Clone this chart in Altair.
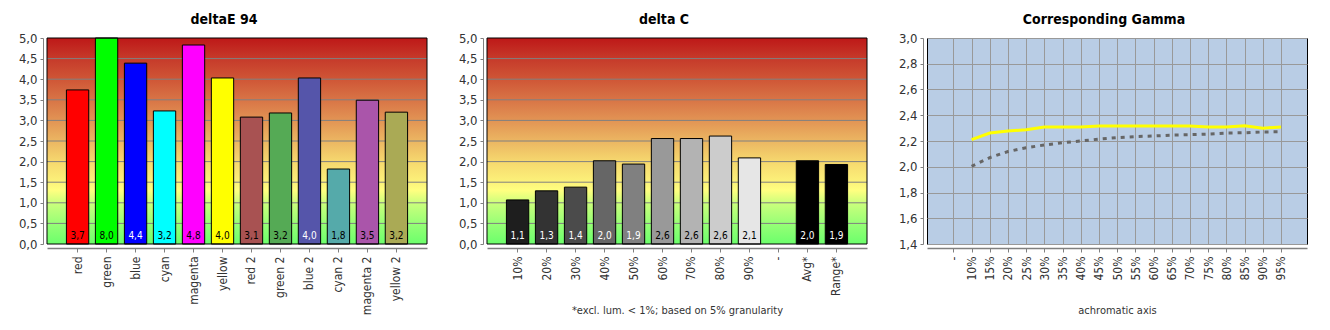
import altair as alt
import pandas as pd

FONT = "DejaVu Sans Condensed"

# ---------------- data ----------------
de_cats = ["red", "green", "blue", "cyan", "magenta", "yellow",
           "red 2", "green 2", "blue 2", "cyan 2", "magenta 2", "yellow 2"]
de_vals = [3.74, 8.0, 4.39, 3.23, 4.83, 4.03, 3.08, 3.18, 4.03, 1.82, 3.49, 3.20]
de_colors = ["#FF0000", "#00FF00", "#0000FF", "#00FFFF", "#FF00FF", "#FFFF00",
             "#A85252", "#55AA55", "#5555AA", "#55AAAA", "#AA55AA", "#AAAA55"]
de_white_labels = ["blue", "blue 2"]

dc_cats = ["10%", "20%", "30%", "40%", "50%", "60%", "70%", "80%", "90%", "-", "Avg*", "Range*"]
dc_vals = [1.07, 1.29, 1.38, 2.02, 1.94, 2.56, 2.56, 2.62, 2.09, None, 2.02, 1.93]
dc_colors = ["#1E1E1E", "#333333", "#4B4B4B", "#666666", "#808080", "#999999",
             "#B3B3B3", "#CCCCCC", "#E6E6E6", "#000000", "#000000", "#000000"]
dc_white_labels = ["10%", "20%", "30%", "40%", "50%", "Avg*", "Range*"]
dc_note = "*excl. lum. < 1%; based on 5% granularity"

g_x = [10, 15, 20, 25, 30, 35, 40, 45, 50, 55, 60, 65, 70, 75, 80, 85, 90, 95]
g_yellow = [2.21, 2.262, 2.277, 2.288, 2.308, 2.308, 2.308, 2.316, 2.316, 2.316,
            2.316, 2.316, 2.316, 2.308, 2.308, 2.318, 2.30, 2.308]
g_gray = [2.004, 2.071, 2.118, 2.148, 2.169, 2.187, 2.20, 2.215, 2.226, 2.234,
          2.239, 2.246, 2.249, 2.254, 2.262, 2.264, 2.27, 2.272]
g_ticks_x = [5] + g_x
g_ticks_y = [1.4, 1.6, 1.8, 2.0, 2.2, 2.4, 2.6, 2.8, 3.0]

bar_ticks_y = [0, 0.5, 1.0, 1.5, 2.0, 2.5, 3.0, 3.5, 4.0, 4.5, 5.0]
bar_grid_y = [0.5, 1.0, 1.5, 2.0, 2.5, 3.0, 3.5, 4.0, 4.5]

# ---------------- style ----------------
W, H = 380, 206
AXIS_COLOR = "#808080"
GRID_COLOR = "#808080"
LABEL_COLOR = "#333333"
COMMA = "replace(format(datum.value, '.1f'), '.', ',')"

gradient = alt.Gradient(
    gradient="linear", x1=0, x2=0, y1=0, y2=1,
    stops=[
        alt.GradientStop(offset=0.0, color="#BE1818"),
        alt.GradientStop(offset=0.1, color="#C63A2A"),
        alt.GradientStop(offset=0.2, color="#CF5636"),
        alt.GradientStop(offset=0.3, color="#D87446"),
        alt.GradientStop(offset=0.4, color="#E29454"),
        alt.GradientStop(offset=0.5, color="#ECB662"),
        alt.GradientStop(offset=0.6, color="#F6D86E"),
        alt.GradientStop(offset=0.7, color="#FCF27A"),
        alt.GradientStop(offset=0.74, color="#FFFF80"),
        alt.GradientStop(offset=0.8, color="#CCFF7C"),
        alt.GradientStop(offset=0.9, color="#98FF76"),
        alt.GradientStop(offset=1.0, color="#6CFF6C"),
    ],
)


def y_axis(values, grid=False):
    return alt.Axis(values=values, labelExpr=COMMA, title=None, grid=grid,
                    gridColor="#999999", gridWidth=1, labelOverlap=False,
                    offset=4, tickSize=3, tickColor=AXIS_COLOR,
                    domainColor=AXIS_COLOR, labelFontSize=13,
                    labelColor=LABEL_COLOR, labelPadding=3)


def x_axis(title, **extra):
    kw = dict(labelAngle=-90, offset=4, tickSize=4, tickColor=AXIS_COLOR,
              domainColor=AXIS_COLOR, domainWidth=1.5, labelFontSize=12,
              labelColor=LABEL_COLOR, labelPadding=4, labelOverlap=False)
    if title:
        kw.update(title=title, titleFontSize=11, titleFontWeight="normal",
                  titleColor=LABEL_COLOR, titleY=62, titleBaseline="middle")
    else:
        kw.update(title=None)
    kw.update(extra)
    return alt.Axis(**kw)


def panel_title(text):
    return alt.TitleParams(text=text, dx=-13)


def bar_panel(cats, vals, colors, white_labels, title, xtitle):
    df = pd.DataFrame({"cat": cats, "val": vals}).dropna()
    df["lbl"] = [f"{v:.1f}".replace(".", ",") for v in df["val"]]
    xs = alt.X("cat:N", sort=cats,
               scale=alt.Scale(domain=cats, paddingInner=0.23, paddingOuter=0.67),
               axis=x_axis(xtitle, grid=False))
    ysc = alt.Scale(domain=[0, 5], clamp=True, nice=False, zero=True)
    yax = y_axis(bar_ticks_y)
    box = pd.DataFrame({"lo": [0], "hi": [5]})

    bg = alt.Chart(box).mark_rect(fill=gradient).encode(
        x=alt.value(0), x2=alt.value(W),
        y=alt.Y("hi:Q", scale=ysc, axis=yax), y2="lo:Q")
    grid = alt.Chart(pd.DataFrame({"g": bar_grid_y})).mark_rule(
        color=GRID_COLOR, strokeWidth=1).encode(
        y=alt.Y("g:Q", scale=ysc, axis=yax))
    bars = alt.Chart(df).mark_bar(stroke="black", strokeWidth=1).encode(
        x=xs, y=alt.Y("val:Q", scale=ysc, axis=yax),
        color=alt.Color("cat:N", scale=alt.Scale(domain=cats, range=colors), legend=None))
    text = alt.Chart(df).mark_text(dy=-8, fontSize=10, baseline="middle").encode(
        x=xs, y=alt.YDatum(0, scale=ysc, axis=yax), text="lbl:N",
        fill=alt.condition(alt.FieldOneOfPredicate(field="cat", oneOf=white_labels),
                           alt.value("white"), alt.value("black")))
    frame = alt.Chart(box).mark_rect(fillOpacity=0, stroke="black", strokeWidth=1).encode(
        x=alt.value(0), x2=alt.value(W),
        y=alt.Y("hi:Q", scale=ysc, axis=yax), y2="lo:Q")
    return alt.layer(bg, grid, bars, text, frame).properties(
        width=W, height=H, title=panel_title(title))


left = bar_panel(de_cats, de_vals, de_colors, de_white_labels, "deltaE 94", None)
mid = bar_panel(dc_cats, dc_vals, dc_colors, dc_white_labels, "delta C", dc_note)

gdf = pd.DataFrame({"x": g_x, "yellow": g_yellow, "gray": g_gray})
gx = alt.X("x:Q", scale=alt.Scale(domain=[-2.25, 102.15], nice=False, zero=False),
           axis=x_axis("achromatic axis", values=g_ticks_x,
                       labelExpr="datum.value == 5 ? '-' : datum.value + '%'",
                       grid=True, gridColor="#999999", gridWidth=1))
gysc = alt.Scale(domain=[1.4, 3.0], nice=False, zero=False)
gyax = y_axis(g_ticks_y, grid=True)

yellow_line = alt.Chart(gdf).mark_line(color="#FFFF00", strokeWidth=3).encode(
    x=gx, y=alt.Y("yellow:Q", scale=gysc, axis=gyax))
gray_line = alt.Chart(gdf).mark_line(color="#666666", strokeWidth=3, strokeDash=[4, 5]).encode(
    x=gx, y=alt.Y("gray:Q", scale=gysc, axis=gyax))

right = alt.layer(yellow_line, gray_line).properties(
    width=W, height=H, title=panel_title("Corresponding Gamma"),
    view=alt.ViewBackground(fill="#B9CDE5", stroke="black", strokeWidth=1))

chart = alt.hconcat(left, mid, right, spacing=29).resolve_scale(
    color="independent", x="independent", y="independent"
).configure(
    font=FONT, padding={"left": 17, "top": 12, "right": 0, "bottom": 0},
    background="white",
).configure_view(stroke="transparent").configure_title(
    fontSize=14, fontWeight="bold", color="black", offset=5, anchor="middle")

chart.save("out.html", embed_options={"renderer": "svg", "actions": False})
